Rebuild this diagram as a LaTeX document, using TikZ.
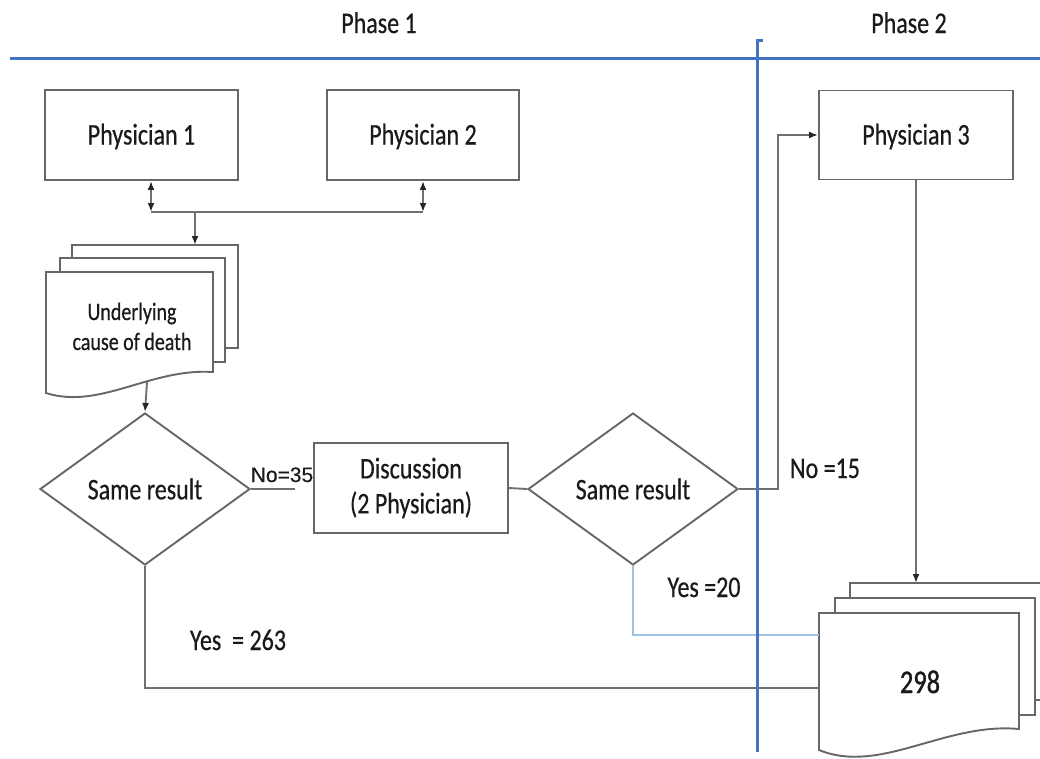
\documentclass[tikz,border=0pt]{standalone}
\usepackage{fontspec}
\setmainfont{Carlito}[FakeStretch=0.8,FakeBold=0.5]
\newfontfamily\arialf{Liberation Sans}[FakeBold=0.3]
\newfontfamily\numfont{Carlito}[FakeStretch=0.8,FakeBold=1.2]
\usetikzlibrary{arrows.meta,shapes.geometric}
\definecolor{bc}{HTML}{676767}
\definecolor{lc}{HTML}{707070}
\definecolor{bl}{HTML}{4472C4}
\definecolor{lb}{HTML}{9DC3E6}
\definecolor{tx}{HTML}{1A1A1A}
\begin{document}
\begin{tikzpicture}[x=1pt,y=-1pt,
  >={Latex[length=9pt,width=7pt,color=black!85]},
  box/.style={draw=bc,line width=1.9pt,fill=white,inner sep=0pt,text=tx,
    font=\fontsize{30}{35}\selectfont,text height=19pt,text depth=0pt},
  dbox/.style={draw=bc,line width=1.9pt,fill=white,inner sep=0pt,text=tx,
    font=\fontsize{30}{35}\selectfont,align=center},
  dia/.style={draw=bc,line width=1.9pt,fill=white,shape=diamond,aspect=1.38,
    minimum width=210pt,minimum height=152pt,inner sep=0pt,text=tx,
    font=\fontsize{30}{35}\selectfont},
  doc/.style={draw=bc,line width=1.9pt,fill=white},
  conn/.style={draw=lc,line width=1.9pt},
  bline/.style={draw=bl,line width=3pt},
  lab/.style={anchor=base,inner sep=0pt,text=tx,font=\fontsize{30}{35}\selectfont},
  dlab/.style={anchor=base,inner sep=0pt,text=tx,font=\fontsize{25}{30}\selectfont}]
\useasboundingbox (0,0) rectangle (1040,758);
\clip (0,0) rectangle (1040,758);
\fill[white] (0,0) rectangle (1040,758);

% phase headings
\node[lab] (ph1) at (379,33) {Phase 1};
\node[lab] (ph2) at (909,33) {Phase 2};

% process boxes
\node[box,minimum width=193pt,minimum height=90pt] (p1) at (141.5,135) {Physician 1};
\node[box,minimum width=192pt,minimum height=90pt] (p2) at (423,135) {Physician 2};
\node[box,minimum width=194pt,minimum height=89pt] (p3) at (916,135) {Physician 3};
\node[dbox,minimum width=194pt,minimum height=90pt] (disc) at (411,488) {Discussion\\(2 Physician)};

% decisions
\node[dia] (d1) at (145,489) {Same result};
\node[dia] (d2) at (633,489) {Same result};

% stacked document: underlying cause of death
\filldraw[doc] (72,245) rectangle (238,348);
\filldraw[doc] (60,258) rectangle (225,362);
\filldraw[doc] (46,272) -- (213,272) -- (213,372) .. controls (150,368) and (100,410) .. (46,393) -- cycle;
\node[dlab] (ucd1) at (132,320) {Underlying};
\node[dlab] (ucd2) at (132,350) {cause of death};

% stacked document: 298
\filldraw[doc] (850,583) rectangle (1050,700);
\filldraw[doc] (835,598) rectangle (1035,715);
\filldraw[doc] (819,613) -- (1019,613) -- (1019,729) .. controls (945,722) and (880,775) .. (819,750) -- cycle;
\node[anchor=base,inner sep=0pt,text=tx,font=\numfont\fontsize{33}{36}\selectfont] (n298) at (920,693) {298};

% coordinates
\coordinate (j1) at (151,212);
\coordinate (j2) at (423,212);
\coordinate (j3) at (195,212);
\coordinate (dt) at (195,245);
\coordinate (docb) at (147,382);
\coordinate (nol) at (295,489);
\coordinate (c1) at (778,489);
\coordinate (b298) at (916,583);
\coordinate (f1) at (819,635);
\coordinate (f2) at (819,688);

% connectors
\draw[conn,<->] (p1.south -| j1) -- (j1);
\draw[conn,<->] (p2.south -| j2) -- (j2);
\draw[conn] (j1) -- (j2);
\draw[conn,->] (j3) -- (dt);
\draw[conn,->] (docb) -- (d1.north);
\draw[conn] (d1.east) -- (nol);
\draw[conn] (disc.east) -- (d2.west);
\draw[conn,->] (d2.east) -- (c1) |- (p3.west);
\draw[conn,->] (p3.south) -- (b298);
\draw[conn,draw=lb] (d2.south) |- (f1);
\draw[conn] (d1.south) |- (f2);

% labels
\node[anchor=base,inner sep=0pt,text=tx,font=\arialf\fontsize{21}{25}\selectfont] (no35) at (282,482) {No=35};
\node[lab] (no15) at (825,478) {No =15};
\node[lab] (yes20) at (704,597) {Yes =20};
\node[lab] (yes263) at (238,650) {Yes\ \ = 263};

% phase separators
\draw[bline] (10,58) -- (1040,58);
\draw[bline] (763,40) -- (757,40) -- (757,752);
\end{tikzpicture}
\end{document}
